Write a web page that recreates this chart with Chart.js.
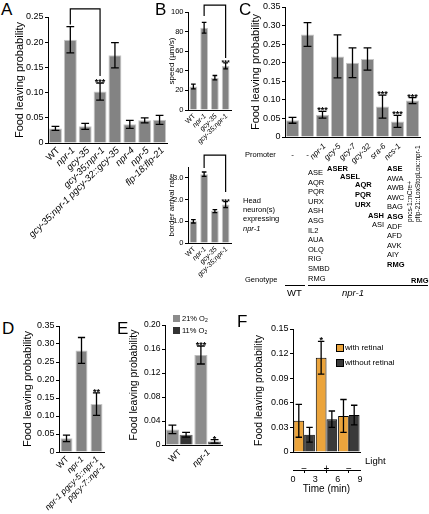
<!DOCTYPE html>
<html><head><meta charset="utf-8">
<script src="https://cdn.jsdelivr.net/npm/chart.js@4.4.0/dist/chart.umd.min.js"></script>
<style>
html,body{margin:0;padding:0;background:#fff}
#fig{position:relative;width:429px;height:514px;overflow:hidden;font-family:"Liberation Sans",Arial,sans-serif;color:#000}
#fig canvas{position:absolute}
.t{position:absolute;white-space:nowrap;line-height:1}
.pl{font-size:17px}
.s{font-size:7.5px}
.b{font-weight:bold}
.col{position:absolute;font-size:7.5px;line-height:9.6px;white-space:nowrap}
.hl{position:absolute;height:0;border-top:1px solid #000}
.sq{position:absolute;width:7px;height:7px}
sub{font-size:5px;vertical-align:-1px}
</style></head>
<body>
<div id="fig">
  <canvas id="cA"></canvas><canvas id="cB1"></canvas><canvas id="cB2"></canvas><canvas id="cC"></canvas>
  <canvas id="cD"></canvas><canvas id="cE"></canvas><canvas id="cF"></canvas>

  <div class="t pl" style="left:1px;top:1px">A</div>
  <div class="t pl" style="left:155px;top:1px">B</div>
  <div class="t pl" style="left:239px;top:1px">C</div>
  <div class="t pl" style="left:2px;top:320px">D</div>
  <div class="t pl" style="left:117px;top:320px">E</div>
  <div class="t pl" style="left:237px;top:313px">F</div>

  <!-- panel C annotation table -->
  <div class="t s" style="left:245px;top:151px">Promoter</div>
  <div class="col" style="left:308px;top:168px">ASE<br>AQR<br>PQR<br>URX<br>ASH<br>ASG<br>IL2<br>AUA<br>OLQ<br>RIG<br>SMBD<br>RMG</div>
  <div class="t s b" style="left:327px;top:165px">ASER</div>
  <div class="t s b" style="left:340px;top:173px">ASEL</div>
  <div class="col b" style="left:355px;top:180px;line-height:10px">AQR<br>PQR<br>URX</div>
  <div class="t s b" style="left:368px;top:212px">ASH</div>
  <div class="t s" style="left:372px;top:221px">ASI</div>
  <div class="col" style="left:387px;top:164px"><b>ASE</b><br>AWA<br>AWB<br>AWC<br>BAG<br><b>ASG</b><br>ADF<br>AFD<br>AVK<br>AIY<br><b>RMG</b></div>
  <div class="t" style="left:406px;top:222px;font-size:6.5px;line-height:8px;transform-origin:0 0;transform:rotate(-90deg)">pncs-1::nCre+<br>pflp-21::LoxStopLox::npr-1</div>
  <div class="col" style="left:243px;top:196px;line-height:9.2px">Head<br>neuron(s)<br>expressing<br><i>npr-1</i></div>
  <div class="t s" style="left:245px;top:276px">Genotype</div>
  <div class="t s b" style="left:411px;top:277px">RMG</div>
  <div class="hl" style="left:285px;top:285px;width:20px"></div>
  <div class="hl" style="left:308px;top:285px;width:120px"></div>
  <div class="t" style="left:287px;top:288px;font-size:9.5px">WT</div>
  <div class="t" style="left:342px;top:288px;font-size:9.5px;font-style:italic">npr-1</div>

  <!-- panel E legend -->
  <div class="sq" style="left:173px;top:315px;background:#8c8c8c"></div>
  <div class="t s" style="left:182px;top:315px">21% O<sub>2</sub></div>
  <div class="sq" style="left:173px;top:327px;background:#333"></div>
  <div class="t s" style="left:182px;top:327px">11% O<sub>2</sub></div>

  <!-- panel F legend -->
  <div class="sq" style="left:336px;top:344px;width:6px;height:6px;border:1px solid #000;background:#eba43c"></div>
  <div class="t" style="left:345px;top:344px;font-size:8px">with retinal</div>
  <div class="sq" style="left:336px;top:359px;width:6px;height:6px;border:1px solid #000;background:#3a3a3a"></div>
  <div class="t" style="left:345px;top:359px;font-size:8px">without retinal</div>
  <div class="t" style="left:365px;top:456px;font-size:9.5px">Light</div>
</div>

<script>
// ---- data ----
const aCats = ["WT", "npr-1", "gcy-35", "gcy-35;npr-1", "gcy-35;npr-1 pgcy-32::gcy-35", "npr-4", "npr-5", "flp-18;flp-21"];
const aVals = [0.029, 0.205, 0.033, 0.102, 0.174, 0.037, 0.045, 0.046];
const aErr = [0.004, 0.026, 0.006, 0.017, 0.025, 0.008, 0.005, 0.009];
const aStars = ["", "", "", "***", "", "", "", ""];

const bCats = ["WT", "npr-1", "gcy-35", "gcy-35;npr-1"];
const bSpeed = [24, 84, 33, 45];
const bSpeedErr = [2.5, 5.5, 2.2, 3];
const bBorder = [1.0, 3.17, 1.47, 1.77];
const bBorderErr = [0.08, 0.1, 0.07, 0.14];
const bStars = ["", "", "", "***"];

const cCats = ["-", "-", "npr-1", "gcy-5", "gcy-7", "gcy-32", "sra-6", "ncs-1", "pncs-1::nCre+ pflp-21::LoxStopLox::npr-1"];
const cVals = [0.045, 0.276, 0.060, 0.217, 0.200, 0.210, 0.082, 0.042, 0.098];
const cErr = [0.008, 0.032, 0.009, 0.058, 0.040, 0.030, 0.031, 0.016, 0.008];
const cStars = ["", "", "***", "", "", "", "***", "***", "***"];

const dCats = ["WT", "npr-1", ["npr-1 pgcy-5::npr-1", "pgcy-7::npr-1"]];
const dVals = [0.038, 0.282, 0.133];
const dErr = [0.009, 0.036, 0.031];
const dStars = ["", "", "**"];

const eCats = ["WT", "npr-1"];
const e21 = [0.026, 0.150], e21Err = [0.007, 0.015], e21Stars = ["", "***"];
const e11 = [0.017, 0.006], e11Err = [0.004, 0.003], e11Stars = ["", "*"];

const fLight = ["\u2212", "+", "\u2212"];
const fWith = [0.038, 0.115, 0.044], fWithErr = [0.02, 0.02, 0.02], fWithStars = ["", "*", ""];
const fWithout = [0.021, 0.040, 0.045], fWithoutErr = [0.009, 0.010, 0.012];

// ---- look ----
const FONT = "'Liberation Sans', Arial, sans-serif";
Chart.defaults.font.family = FONT;
Chart.defaults.color = "#000";
const BAR = "#838383", EDGE = "#c6c6c6";
const fmt2 = v => v === 0 ? "0" : v.toFixed(2);

// error bars + significance stars, from the y scale
const errBars = {
  id: "errBars",
  afterDatasetsDraw(chart) {
    const ctx = chart.ctx, ys = chart.scales.y;
    chart.data.datasets.forEach((ds, di) => {
      if (!ds.err) return;
      chart.getDatasetMeta(di).data.forEach((bar, i) => {
        const v = ds.data[i], e = ds.err[i], x = bar.x;
        const y1 = ys.getPixelForValue(v + e), y2 = ys.getPixelForValue(Math.max(v - e, 0));
        const cap = Math.max(2, bar.width * 0.3);
        ctx.save();
        ctx.strokeStyle = "#000"; ctx.lineWidth = 1.3;
        ctx.beginPath();
        ctx.moveTo(x, y1); ctx.lineTo(x, y2);
        ctx.moveTo(x - cap, y1); ctx.lineTo(x + cap, y1);
        ctx.moveTo(x - cap, y2); ctx.lineTo(x + cap, y2);
        ctx.stroke();
        if (ds.stars && ds.stars[i]) {
          ctx.fillStyle = "#000";
          ctx.font = `bold ${ds.starSize || 9}px ${FONT}`;
          ctx.textAlign = "center"; ctx.textBaseline = "alphabetic";
          ctx.fillText(ds.stars[i], x, y1 + 2);
        }
        ctx.restore();
      });
    });
  }
};

// rotated category labels (gene names in italics)
const xLabels = {
  id: "xl",
  afterDraw(chart, args, o) {
    if (!o.labels) return;
    const ctx = chart.ctx, xs = chart.scales.x, yb = chart.chartArea.bottom;
    ctx.save(); ctx.fillStyle = "#000";
    o.labels.forEach((lab, i) => {
      if (!lab) return;
      const x = xs.getPixelForValue(i);
      if (lab === "-") {
        ctx.font = `${o.size}px ${FONT}`;
        ctx.textAlign = "center"; ctx.textBaseline = "middle";
        ctx.fillText("-", x, yb + o.flatDy);
        return;
      }
      ctx.save();
      ctx.translate(x + o.dx, yb + o.dy);
      ctx.rotate(-o.angle * Math.PI / 180);
      ctx.textAlign = "right"; ctx.textBaseline = "middle";
      [].concat(lab).forEach((ln, k) => {
        ctx.font = `${ln === "WT" ? "" : "italic "}${o.size}px ${FONT}`;
        ctx.fillText(ln, 0, k * o.size * 1.1);
      });
      ctx.restore();
    });
    ctx.restore();
  }
};

// comparison bracket between two bars
const bracketPlug = {
  id: "bracket",
  afterDraw(chart, args, o) {
    if (o.a == null) return;
    const ctx = chart.ctx, xs = chart.scales.x, ys = chart.scales.y;
    const xa = xs.getPixelForValue(o.a), xb = xs.getPixelForValue(o.b);
    ctx.save();
    ctx.strokeStyle = "#000"; ctx.lineWidth = 1.2;
    ctx.beginPath();
    ctx.moveTo(xa, ys.getPixelForValue(o.ya));
    ctx.lineTo(xa, ys.getPixelForValue(o.top));
    ctx.lineTo(xb, ys.getPixelForValue(o.top));
    ctx.lineTo(xb, ys.getPixelForValue(o.yb));
    ctx.stroke();
    ctx.restore();
  }
};

// box = canvas [left, top, right, bottom]; plot = axis [x0, yTop, x1, yBottom]
function makeChart(id, box, plot, o) {
  const [L, T, R, B] = box, [x0, yT, x1, yB] = plot;
  const cv = document.getElementById(id);
  cv.width = R - L; cv.height = B - T;
  cv.style.left = L + "px"; cv.style.top = T + "px";
  const scales = {
    x: {
      offset: true, weight: 0, grid: { display: false }, border: { color: "#000", width: 1 },
      ticks: o.xTicks || { display: false },
      afterFit: s => { s.height = o.xh != null ? o.xh : B - yB; }
    },
    y: {
      min: 0, max: o.max, border: { color: "#000", width: 1 },
      grid: { drawOnChartArea: false, tickLength: 3, color: "#000" },
      ticks: { stepSize: o.step, includeBounds: false, padding: 1.5, font: { size: o.tick || 9 }, callback: o.fmt },
      title: { display: true, text: o.title, padding: 0, font: { size: o.tsize || 11 } },
      afterFit: s => { s.width = x0 - L; }
    }
  };
  Object.assign(scales, o.extraScales || {});
  return new Chart(cv, {
    type: "bar",
    data: { labels: o.cats, datasets: o.datasets },
    options: {
      responsive: false, animation: false, devicePixelRatio: 1,
      layout: { padding: { top: yT - T, right: R - x1, left: 0, bottom: 0 } },
      plugins: { legend: { display: false }, tooltip: { enabled: false }, xl: o.xl || {}, bracket: o.bracket || {} },
      scales
    },
    plugins: [errBars, xLabels, bracketPlug]
  });
}

const grayBars = (data, err, stars, pct, starSize) => [{
  data, err, stars, starSize, backgroundColor: BAR, borderColor: EDGE, borderWidth: 1,
  barPercentage: pct, categoryPercentage: 1
}];

// A
makeChart("cA", [13, 4, 171, 256], [48, 17, 167, 143], {
  cats: aCats, max: 0.25, step: 0.05, fmt: fmt2, title: "Food leaving probability",
  datasets: grayBars(aVals, aErr, aStars, 0.87, 9),
  xl: { labels: aCats, size: 9.5, angle: 45, dx: 3, dy: 6 },
  bracket: { a: 1, b: 3, top: 0.266, ya: 0.235, yb: 0.133 }
});

// B, speed
makeChart("cB1", [167, 2, 236, 150], [188, 12, 231, 110], {
  cats: bCats, max: 100, step: 20, fmt: v => String(v), title: "speed (\u00b5m/s)", tsize: 8, tick: 7.5,
  datasets: grayBars(bSpeed, bSpeedErr, bStars, 0.72, 7),
  xl: { labels: bCats, size: 7, angle: 45, dx: 1, dy: 5 },
  bracket: { a: 1, b: 3, top: 107, ya: 96, yb: 53 }
});

// B, border arrival
makeChart("cB2", [167, 150, 236, 285], [188, 167, 231, 243], {
  cats: bCats, max: 3.5, step: 1, fmt: v => v === 0 ? "0" : v.toFixed(1), title: "border arrival rate", tsize: 8, tick: 7.5,
  datasets: grayBars(bBorder, bBorderErr, bStars, 0.72, 7),
  xl: { labels: bCats, size: 7, angle: 45, dx: 1, dy: 5 },
  bracket: { a: 1, b: 3, top: 4.05, ya: 3.45, yb: 2.35 }
});

// C
makeChart("cC", [249, 0, 429, 172], [285, 7, 420, 137], {
  cats: cCats, max: 0.35, step: 0.05, fmt: fmt2, title: "Food leaving probability",
  datasets: grayBars(cVals, cErr, cStars, 0.87, 9),
  xl: { labels: cCats.map((c, i) => i < cCats.length - 1 ? c : null), size: 8, angle: 45, dx: 2, dy: 8, flatDy: 18 }
});

// D
makeChart("cD", [21, 318, 112, 514], [59, 326, 104, 452], {
  cats: dCats, max: 0.35, step: 0.05, fmt: fmt2, title: "Food leaving probability",
  datasets: grayBars(dVals, dErr, dStars, 0.8, 9),
  xl: { labels: dCats, size: 8.5, angle: 45, dx: 1, dy: 6 }
});

// E
makeChart("cE", [128, 312, 230, 500], [165, 325, 222, 445], {
  cats: eCats, max: 0.2, step: 0.02, tick: 8.5, tsize: 10.5, title: "Food leaving probability",
  fmt: v => { const k = Math.round(v * 100); return k % 4 ? "" : fmt2(v); },
  datasets: [
    { data: e21, err: e21Err, stars: e21Stars, backgroundColor: "#8c8c8c", borderColor: "#bdbdbd", borderWidth: 1, barPercentage: 0.96, categoryPercentage: 0.96 },
    { data: e11, err: e11Err, stars: e11Stars, backgroundColor: "#333", borderColor: "#666", borderWidth: 1, barPercentage: 0.96, categoryPercentage: 0.96 }
  ],
  xl: { labels: eCats, size: 9, angle: 45, dx: 1, dy: 6 }
});

// F
makeChart("cF", [253, 320, 368, 495], [293, 329, 360, 452], {
  cats: fLight, max: 0.15, step: 0.03, fmt: fmt2, tsize: 10.5, title: "Food leaving probability",
  xh: 18,
  xTicks: { display: true, padding: 3, maxRotation: 0, font: { size: 10 } },
  datasets: [
    { xAxisID: "x", data: fWith, err: fWithErr, stars: fWithStars, starSize: 9, backgroundColor: "#eba43c", borderColor: "#000", borderWidth: 1, barPercentage: 1, categoryPercentage: 0.96 },
    { xAxisID: "x", data: fWithout, err: fWithoutErr, backgroundColor: "#3a3a3a", borderColor: "#000", borderWidth: 1, barPercentage: 1, categoryPercentage: 0.96 }
  ],
  extraScales: {
    xt: {
      type: "linear", position: "bottom", weight: 1, min: 0, max: 9, offset: false,
      border: { color: "#000", width: 1 },
      grid: { drawOnChartArea: false, tickLength: 3, color: "#000" },
      ticks: { stepSize: 3, padding: 1, font: { size: 9 } },
      title: { display: true, text: "Time (min)", padding: 0, font: { size: 10 } },
      afterFit: s => { s.height = 25; }
    }
  }
});
</script>
</body></html>
